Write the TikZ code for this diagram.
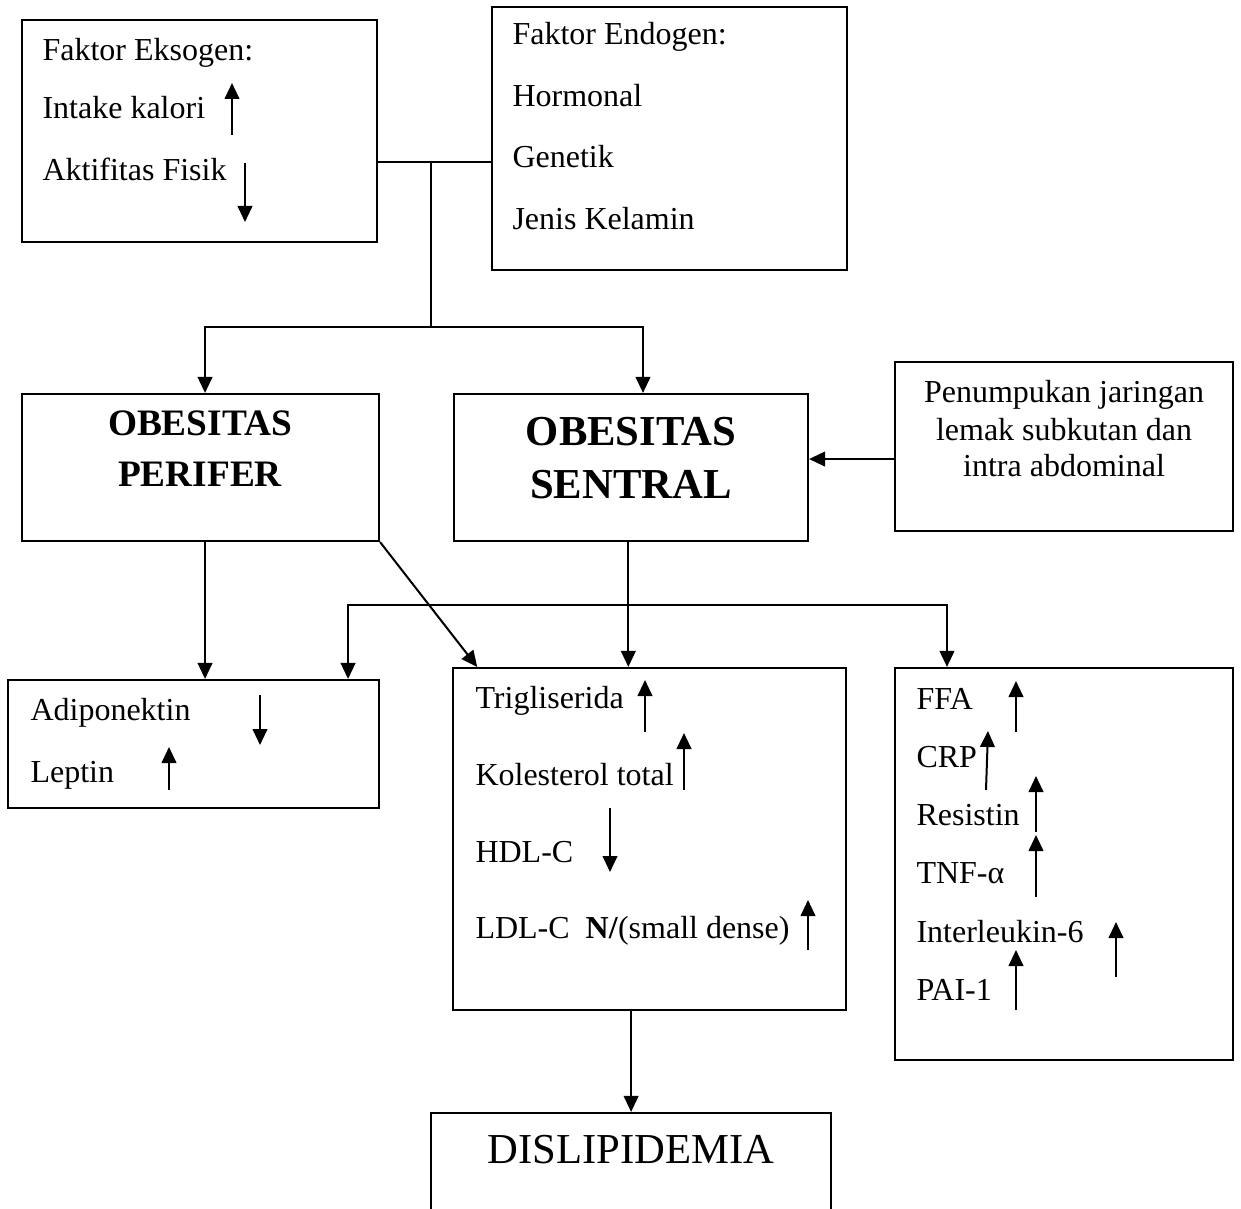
\documentclass[tikz,border=0pt]{standalone}
\usepackage{fontspec}
\setmainfont{Liberation Serif}
\usetikzlibrary{arrows.meta,calc}

\tikzset{
  kotak/.style 2 args={draw, line width=0.8pt, inner sep=0pt,
    minimum width=#1*0.375pt, minimum height=#2*0.375pt},
  teks/.style={anchor=base west, inner sep=0pt, font=\fontsize{12}{14}\selectfont},
  judul/.style={anchor=base, inner sep=0pt, font=\fontsize{14}{17}\selectfont\bfseries},
  panah/.style={line width=0.75pt, -{Triangle[width=5.5pt,length=6pt]}}
}

\begin{document}
\begin{tikzpicture}[x=0.375pt,y=-0.375pt]
\clip (0,0) rectangle (1241,1209);

% kotak
\node[kotak={355}{222}] (eks) at (199.5,131) {};
\node[kotak={355}{263}] (endo) at (669.5,138.5) {};
\node[kotak={357}{147}] (perifer) at (200.5,467.5) {};
\node[kotak={354}{147}] (sentral) at (631,467.5) {};
\node[kotak={338}{169}] (tumpuk) at (1064,446.5) {};
\node[kotak={371}{128}] (adipo) at (193.5,744) {};
\node[kotak={393}{342}] (lipid) at (649.5,839) {};
\node[kotak={338}{392}] (sitokin) at (1064,864) {};
\node[kotak={400}{147}] (dislip) at (631,1186.5) {};

% teks
\node[teks] (eks1) at (42,61) {Faktor Eksogen:};
\node[teks] (eks2) at (42,119) {Intake kalori};
\node[teks] (eks3) at (42,181) {Aktifitas Fisik};
\foreach \t/\y in {Faktor Endogen:/45, Hormonal/107, Genetik/168, Jenis Kelamin/230}
  \node[teks] at (512,\y) {\t};
\node[judul] (per1) at (200,436) {OBESITAS};
\node[judul] (per2) at (200,487) {PERIFER};
\node[judul, font=\fontsize{16}{19}\selectfont\bfseries] (sen1) at (631,445) {OBESITAS};
\node[judul, font=\fontsize{16}{19}\selectfont\bfseries] (sen2) at (631,498) {SENTRAL};
\foreach \t/\y in {Penumpukan jaringan/403, lemak subkutan dan/441, intra abdominal/477}
  \node[teks, anchor=base] at (1064,\y) {\t};
\node[teks] (adi1) at (30,720) {Adiponektin};
\node[teks] (adi2) at (30,782) {Leptin};
\node[teks] (lip1) at (475,708) {Trigliserida};
\node[teks] (lip2) at (475,785) {Kolesterol total};
\node[teks] (lip3) at (475,862) {HDL-C};
\node[teks] (lip4) at (475,938) {LDL-C\ \ \textbf{N/}(small dense)};
\foreach \t/\y in {FFA/709, CRP/767, Resistin/825, TNF-α/883, Interleukin-6/942, PAI-1/1000}
  \node[teks] at (916,\y) {\t};
\node[teks, anchor=base, font=\fontsize{16}{19}\selectfont] (dis1) at (631,1163) {DISLIPIDEMIA};

% panah naik / turun
\foreach \xa/\ya/\xb/\yb in {232/135/232/83, 245/163/245/222, 260/695/260/745,
  169/790/169/747, 645/732/645/680, 684/790/684/733, 610/808/610/872,
  808/950/808/900, 1016/732/1016/681, 986/790/988/731, 1036/832/1036/776,
  1036/897/1036/835, 1116/977/1116/922, 1016/1010/1016/950}
  \draw[panah] (\xa,\ya) -- (\xb,\yb);

% penghubung
\coordinate (temu) at (431,162);
\coordinate (bagi) at (431,327);
\draw[line width=0.75pt] (eks.east |- temu) -- (endo.west |- temu);
\draw[line width=0.75pt] (temu) -- (bagi);
\draw[panah] (bagi) -| ([xshift=1.7pt]perifer.north);
\draw[panah] (bagi) -| ([xshift=4.5pt]sentral.north);
\coordinate (t1) at ([yshift=-4.7pt]tumpuk.west);
\draw[panah] (t1) -- (t1 -| sentral.east);
\draw[panah] ([xshift=1.7pt]perifer.south) -- ([xshift=1.7pt]perifer.south |- adipo.north);
\draw[panah] (perifer.south east) -- ($(lipid.north west)!0.064!(lipid.north east)$);
\draw[panah] ([xshift=-1pt]sentral.south) -- ([xshift=-1pt]sentral.south |- lipid.north);
\coordinate (cabang) at (628,605);
\draw[panah] (cabang) -| ([xshift=-12pt]adipo.north east);
\draw[panah] (cabang) -| ([xshift=19.9pt]sitokin.north west);
\draw[panah] ([xshift=-6.9pt]lipid.south) -- ([xshift=-6.9pt]lipid.south |- dislip.north);
\end{tikzpicture}
\end{document}
